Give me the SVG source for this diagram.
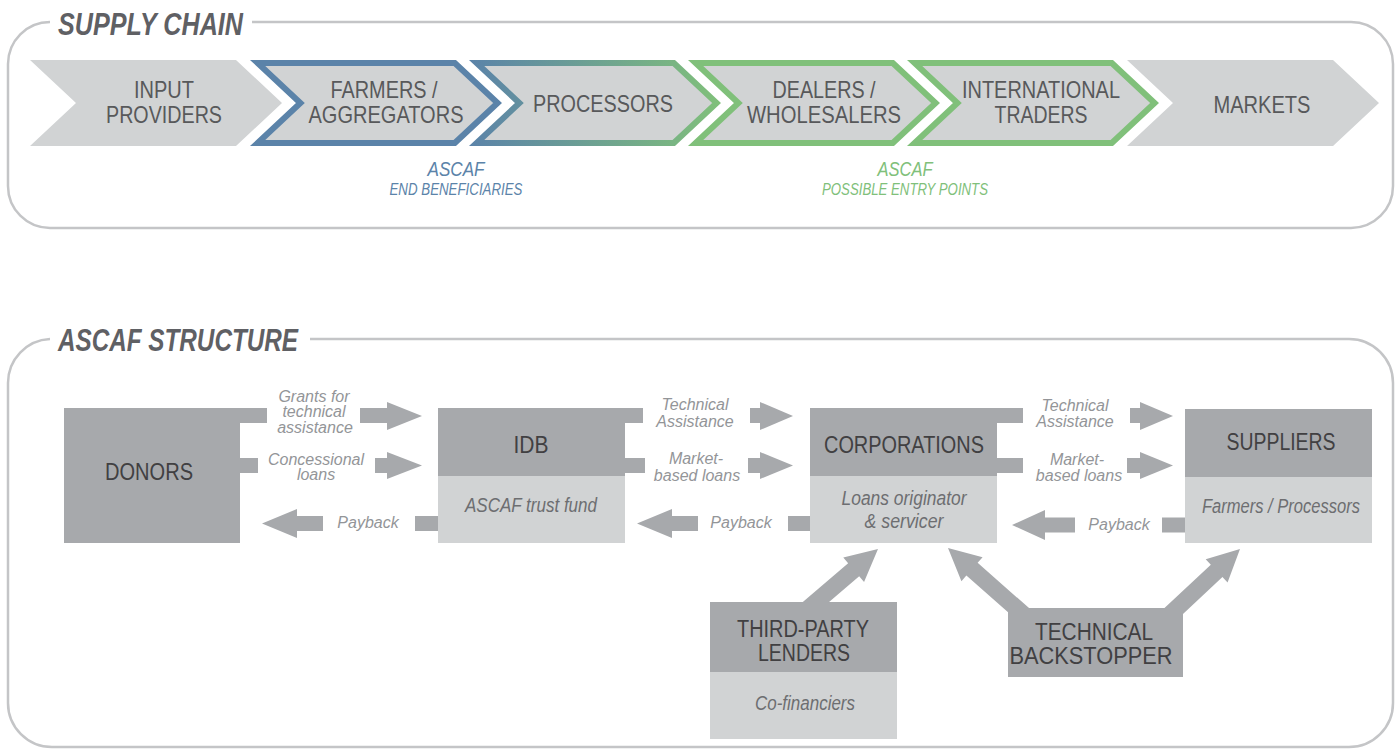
<svg xmlns="http://www.w3.org/2000/svg" width="1399" height="749" viewBox="0 0 1399 749">
<style>
.panel{fill:none;stroke:#c4c5c7;stroke-width:2.5}
.title{font-family:"Liberation Sans",Arial,sans-serif;font-weight:bold;font-style:italic;font-size:31px;fill:#5f6064}
.chev{fill:#d1d3d4}
.cl{font-family:"Liberation Sans",Arial,sans-serif;font-size:24px;fill:#58595b;text-anchor:middle}
.asc{font-family:"Liberation Sans",Arial,sans-serif;font-style:italic;text-anchor:middle}
.dark{fill:#a7a9ac}
.light{fill:#d1d3d4}
.bl{font-family:"Liberation Sans",Arial,sans-serif;font-size:23px;fill:#414042;text-anchor:middle}
.sub{font-family:"Liberation Sans",Arial,sans-serif;font-style:italic;font-size:20px;fill:#6d6e71;text-anchor:middle}
.arr{fill:#a7a9ac}
.al{font-family:"Liberation Sans",Arial,sans-serif;font-style:italic;font-size:16px;fill:#939598;text-anchor:middle}
</style>
<defs>
<linearGradient id="bg" x1="469" y1="0" x2="720" y2="0" gradientUnits="userSpaceOnUse">
<stop offset="0" stop-color="#5b83a9"/>
<stop offset="1" stop-color="#80c07a"/>
</linearGradient>
</defs>

<!-- panels -->
<path class="panel" d="M252 22 H1351 A42 42 0 0 1 1393 64 V186 A42 42 0 0 1 1351 228 H50 A42 42 0 0 1 8 186 V64 A42 42 0 0 1 50 22"/>
<text class="title" x="58" y="35" font-size="32" textLength="185" lengthAdjust="spacingAndGlyphs">SUPPLY CHAIN</text>
<path class="panel" d="M310 339 H1349 A44 44 0 0 1 1393 383 V703 A44 44 0 0 1 1349 747 H52 A44 44 0 0 1 8 703 V383 A44 44 0 0 1 50 339"/>
<text class="title" x="58" y="351" textLength="240" lengthAdjust="spacingAndGlyphs">ASCAF STRUCTURE</text>

<!-- supply chain -->
<g id="input-providers">
<polygon class="chev" points="30,60 236,60 282,103 236,146 30,146 76,103"/>
<text class="cl" x="164" y="98" textLength="60" lengthAdjust="spacingAndGlyphs">INPUT</text>
<text class="cl" x="164" y="123" textLength="116" lengthAdjust="spacingAndGlyphs">PROVIDERS</text>
</g>
<g id="farmers-aggregators">
<polygon class="chev" points="257.6,63 454.8,63 497.6,103 454.8,143 257.6,143 300.4,103" stroke="#5b83a9" stroke-width="6"/>
<text class="cl" x="384" y="98" textLength="107" lengthAdjust="spacingAndGlyphs">FARMERS /</text>
<text class="cl" x="386" y="123" textLength="155" lengthAdjust="spacingAndGlyphs">AGGREGATORS</text>
</g>
<g id="processors">
<polygon class="chev" points="476.6,63 673.8,63 716.6,103 673.8,143 476.6,143 519.4,103" stroke="url(#bg)" stroke-width="6"/>
<text class="cl" x="603" y="112" textLength="140" lengthAdjust="spacingAndGlyphs">PROCESSORS</text>
</g>
<g id="dealers-wholesalers">
<polygon class="chev" points="695.6,63 892.8,63 935.6,103 892.8,143 695.6,143 738.4,103" stroke="#80c07a" stroke-width="6"/>
<text class="cl" x="824" y="98" textLength="103" lengthAdjust="spacingAndGlyphs">DEALERS /</text>
<text class="cl" x="824" y="123" textLength="154" lengthAdjust="spacingAndGlyphs">WHOLESALERS</text>
</g>
<g id="international-traders">
<polygon class="chev" points="914.6,63 1111.8,63 1154.6,103 1111.8,143 914.6,143 957.4,103" stroke="#80c07a" stroke-width="6"/>
<text class="cl" x="1041" y="98" textLength="158" lengthAdjust="spacingAndGlyphs">INTERNATIONAL</text>
<text class="cl" x="1041" y="123" textLength="93" lengthAdjust="spacingAndGlyphs">TRADERS</text>
</g>
<g id="markets">
<polygon class="chev" points="1127,60 1333,60 1379,103 1333,146 1127,146 1173,103"/>
<text class="cl" x="1262" y="113" textLength="97" lengthAdjust="spacingAndGlyphs">MARKETS</text>
</g>
<g id="ascaf-end-beneficiaries">
<text class="asc" x="456" y="176" font-size="21" fill="#5b83a9" textLength="57" lengthAdjust="spacingAndGlyphs">ASCAF</text>
<text class="asc" x="456" y="195" font-size="16.5" fill="#5b83a9" textLength="133" lengthAdjust="spacingAndGlyphs">END BENEFICIARIES</text>
</g>
<g id="ascaf-entry-points">
<text class="asc" x="905" y="176" font-size="21" fill="#80c07a" textLength="55" lengthAdjust="spacingAndGlyphs">ASCAF</text>
<text class="asc" x="905" y="195" font-size="16.5" fill="#80c07a" textLength="166" lengthAdjust="spacingAndGlyphs">POSSIBLE ENTRY POINTS</text>
</g>

<!-- connectors -->
<g id="connectors">
<!-- Donors -> IDB -->
<rect class="arr" x="238" y="408" width="29" height="15"/>
<rect class="arr" x="360" y="408" width="28" height="15"/>
<polygon class="arr" points="387,402 422,416 387,430"/>
<text class="al" x="314" y="402">Grants for</text>
<text class="al" x="314" y="417">technical</text>
<text class="al" x="315" y="433">assistance</text>
<rect class="arr" x="238" y="458" width="20" height="15"/>
<rect class="arr" x="375" y="458" width="13" height="15"/>
<polygon class="arr" points="387,452 422,465.5 387,479"/>
<text class="al" x="316" y="465">Concessional</text>
<text class="al" x="316" y="480">loans</text>
<polygon class="arr" points="262,523.5 297,509 297,516 323,516 323,531 297,531 297,538"/>
<rect class="arr" x="415" y="516" width="25" height="15"/>
<text class="al" x="368" y="528">Payback</text>
<!-- IDB -> Corporations -->
<rect class="arr" x="623" y="408" width="20" height="15"/>
<rect class="arr" x="750" y="408" width="11" height="15"/>
<polygon class="arr" points="760,402 793,416 760,430"/>
<text class="al" x="695" y="410">Technical</text>
<text class="al" x="695" y="427">Assistance</text>
<rect class="arr" x="623" y="458" width="22" height="15"/>
<rect class="arr" x="748" y="458" width="13" height="15"/>
<polygon class="arr" points="760,452 793,465.5 760,479"/>
<text class="al" x="696" y="464">Market-</text>
<text class="al" x="697" y="481">based loans</text>
<polygon class="arr" points="637,523.5 672,509 672,516 698,516 698,531 672,531 672,538"/>
<rect class="arr" x="788" y="516" width="24" height="15"/>
<text class="al" x="741" y="528">Payback</text>
<!-- Corporations -> Suppliers -->
<rect class="arr" x="995" y="408" width="28" height="15"/>
<rect class="arr" x="1130" y="408" width="11" height="15"/>
<polygon class="arr" points="1140,402 1173,416 1140,430"/>
<text class="al" x="1075" y="411">Technical</text>
<text class="al" x="1075" y="427">Assistance</text>
<rect class="arr" x="995" y="458" width="28" height="15"/>
<rect class="arr" x="1127" y="458" width="14" height="15"/>
<polygon class="arr" points="1140,452 1173,465.5 1140,479"/>
<text class="al" x="1077" y="465">Market-</text>
<text class="al" x="1079" y="481">based loans</text>
<polygon class="arr" points="1012,525 1045,510 1045,517.5 1075,517.5 1075,532.5 1045,532.5 1045,540"/>
<rect class="arr" x="1162" y="517.5" width="25" height="15"/>
<text class="al" x="1119" y="530">Payback</text>
<!-- diagonal arrows -->
<path class="arr" transform="translate(878 549) rotate(-40.5)" d="M0 0 L-32 -16 L-32 -8.5 L-102 -8.5 L-102 8.5 L-32 8.5 L-32 16 Z"/>
<path class="arr" transform="translate(948 548) rotate(-138.6)" d="M0 0 L-32 -16 L-32 -8.5 L-110 -8.5 L-110 8.5 L-32 8.5 L-32 16 Z"/>
<path class="arr" transform="translate(1240 549) rotate(-43.1)" d="M0 0 L-32 -16 L-32 -8.5 L-105 -8.5 L-105 8.5 L-32 8.5 L-32 16 Z"/>
</g>

<!-- nodes -->
<g id="donors">
<rect class="dark" x="64" y="408" width="176" height="135"/>
<text class="bl" x="149" y="480" textLength="88" lengthAdjust="spacingAndGlyphs">DONORS</text>
</g>
<g id="idb">
<rect class="dark" x="438" y="408" width="187" height="68"/>
<rect class="light" x="438" y="476" width="187" height="67"/>
<text class="bl" x="531" y="453" textLength="35" lengthAdjust="spacingAndGlyphs">IDB</text>
<text class="sub" x="531" y="512" textLength="132" lengthAdjust="spacingAndGlyphs">ASCAF trust fund</text>
</g>
<g id="corporations">
<rect class="dark" x="810" y="408" width="187" height="68"/>
<rect class="light" x="810" y="476" width="187" height="67"/>
<text class="bl" x="904" y="453" textLength="160" lengthAdjust="spacingAndGlyphs">CORPORATIONS</text>
<text class="sub" x="904" y="505" textLength="125" lengthAdjust="spacingAndGlyphs">Loans originator</text>
<text class="sub" x="904" y="528" textLength="79" lengthAdjust="spacingAndGlyphs">&amp; servicer</text>
</g>
<g id="suppliers">
<rect class="dark" x="1185" y="409" width="187" height="68"/>
<rect class="light" x="1185" y="477" width="187" height="66"/>
<text class="bl" x="1281" y="450" textLength="109" lengthAdjust="spacingAndGlyphs">SUPPLIERS</text>
<text class="sub" x="1281" y="513" textLength="158" lengthAdjust="spacingAndGlyphs">Farmers / Processors</text>
</g>
<g id="third-party-lenders">
<rect class="dark" x="710" y="602" width="187" height="70"/>
<rect class="light" x="710" y="672" width="187" height="67"/>
<text class="bl" x="803" y="637" textLength="132" lengthAdjust="spacingAndGlyphs">THIRD-PARTY</text>
<text class="bl" x="804" y="661" textLength="92" lengthAdjust="spacingAndGlyphs">LENDERS</text>
<text class="sub" x="805" y="710" textLength="100" lengthAdjust="spacingAndGlyphs">Co-financiers</text>
</g>
<g id="technical-backstopper">
<rect class="dark" x="1008" y="608" width="175" height="69"/>
<text class="bl" x="1094" y="640" textLength="118" lengthAdjust="spacingAndGlyphs">TECHNICAL</text>
<text class="bl" x="1091" y="664" textLength="163" lengthAdjust="spacingAndGlyphs">BACKSTOPPER</text>
</g>
</svg>
